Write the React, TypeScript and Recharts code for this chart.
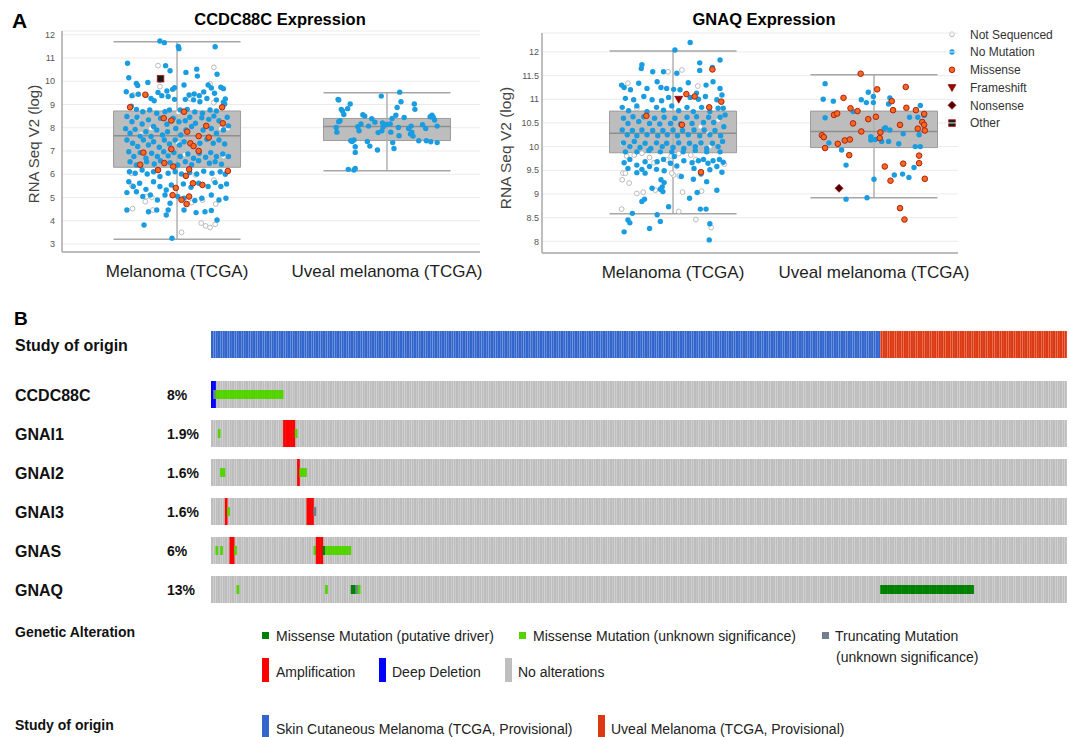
import React from "react";
import {
  ScatterChart,
  Scatter,
  XAxis,
  YAxis,
  CartesianGrid,
  ReferenceArea,
  ReferenceLine,
  BarChart,
  Bar,
} from "recharts";

// ---- panel A data ----
type Pt = [number, number]; // [jitter as share of half box width, RNA Seq V2 (log)]

const groups = ["Melanoma (TCGA)", "Uveal melanoma (TCGA)"];

// box stats: [low whisker, q1, median, q3, high whisker]
const ccdcMelBox = [3.2, 6.3, 7.65, 8.72, 11.7];
const ccdcUvBox = [6.15, 7.45, 8.05, 8.4, 9.5];
const gnaqMelBox = [8.58, 9.87, 10.28, 10.75, 12.02];
const gnaqUvBox = [8.92, 9.98, 10.32, 10.75, 11.52];

const ccdcTicks = [3, 4, 5, 6, 7, 8, 9, 10, 11, 12];
const gnaqTicks = [8, 8.5, 9, 9.5, 10, 10.5, 11, 11.5, 12];

const ccdcMelNoMut: Pt[] = [
  [-0.27, 11.73], [-0.2, 11.66], [0.6, 11.48], [0.02, 11.5], [0.03, 11.4],
  [-0.78, 10.77], [-0.76, 10.15], [-0.18, 10.67], [-0.11, 10.45], [0.14, 10.38],
  [0.31, 10.52], [0.32, 10.22], [0.63, 10.3], [0.69, 9.74], [0.11, 9.84],
  [-0.07, 9.65], [-0.64, 9.9], [-0.62, 9.82], [-0.8, 9.55], [-0.46, 9.95],
  [-0.27, 10.05], [-0.49, 9.4], [-0.41, 9.26], [-0.36, 9.16], [-0.3, 9.52],
  [-0.16, 9.58], [-0.04, 9.72], [0.19, 9.41], [0.27, 9.45], [0.35, 9.38],
  [0.42, 9.54], [0.49, 9.84], [0.54, 9.71], [0.59, 9.48], [0.73, 9.68],
  [0.76, 9.24], [0.73, 9.1], [0.62, 9.2], [0.47, 9.26], [0.36, 9.12],
  [0.26, 9.2], [0.13, 9.22], [-0.04, 9.22], [-0.14, 9.34], [-0.24, 9.38],
  [-0.61, 9.44], [-0.71, 9.38], [-0.72, 8.93], [-0.64, 8.79], [-0.54, 8.69],
  [-0.43, 8.76], [-0.32, 8.62], [-0.19, 8.69], [-0.12, 8.76], [0.05, 8.76],
  [0.16, 8.79], [0.28, 8.68], [0.4, 8.62], [0.52, 8.76], [0.62, 8.72],
  [0.75, 9.02], [-0.79, 8.48], [-0.71, 8.26], [-0.63, 8.45], [-0.55, 8.16],
  [-0.45, 8.34], [-0.37, 8.05], [-0.26, 8.41], [-0.16, 8.15], [-0.06, 8.41],
  [0.03, 8.26], [0.13, 8.3], [0.2, 8.45], [0.29, 8.19], [0.39, 8.43],
  [0.5, 8.36], [0.58, 8.5], [0.66, 8.3], [0.79, 8.45], [-0.81, 7.96],
  [-0.74, 7.76], [-0.66, 7.93], [-0.58, 7.64], [-0.49, 7.83], [-0.41, 7.62],
  [-0.32, 7.9], [-0.23, 7.69], [-0.15, 7.83], [-0.02, 7.97], [0.06, 7.69],
  [0.14, 7.9], [0.23, 8.05], [0.41, 7.9], [0.54, 7.97], [0.62, 7.76],
  [0.73, 7.9], [0.81, 8.08], [-0.79, 7.47], [-0.7, 7.33], [-0.62, 7.19],
  [-0.53, 7.47], [-0.45, 7.26], [-0.37, 7.4], [-0.28, 7.16], [-0.2, 7.47],
  [-0.12, 7.3], [-0.03, 7.47], [0.04, 7.26], [0.11, 7.4], [0.36, 7.33],
  [0.47, 7.5], [0.57, 7.33], [0.66, 7.47], [0.75, 7.3], [-0.76, 6.97],
  [-0.68, 6.76], [-0.58, 6.93], [-0.49, 6.69], [-0.4, 6.9], [-0.31, 6.76],
  [-0.21, 6.97], [-0.14, 6.79], [-0.05, 6.93], [0.05, 6.76], [0.17, 6.87],
  [0.26, 6.69], [0.35, 6.9], [0.45, 6.73], [0.53, 6.93], [0.62, 6.76],
  [0.72, 6.87], [0.81, 6.76], [-0.74, 6.54], [-0.64, 6.4], [-0.48, 6.54],
  [-0.36, 6.44], [-0.26, 6.58], [-0.11, 6.5], [0.01, 6.4], [0.13, 6.54],
  [0.23, 6.41], [0.34, 6.58], [0.51, 6.47], [0.6, 6.54], [0.7, 6.43],
  [-0.75, 6.11], [-0.66, 6.04], [-0.55, 6.18], [-0.47, 6.01], [-0.37, 6.11],
  [-0.27, 5.9], [-0.14, 6.04], [-0.03, 6.11], [0.07, 6.01], [0.2, 6.07],
  [0.31, 6.01], [0.42, 6.13], [0.55, 6.04], [0.68, 6.11], [0.76, 6.0],
  [-0.76, 5.68], [-0.69, 5.47], [-0.59, 5.61], [-0.49, 5.35], [-0.37, 5.68],
  [-0.27, 5.47], [-0.17, 5.32], [-0.09, 5.54], [0.1, 5.58], [0.22, 5.44],
  [0.34, 5.61], [0.49, 5.47], [0.6, 5.64], [0.69, 5.47], [0.78, 5.58],
  [-0.79, 5.21], [-0.64, 5.25], [-0.54, 5.04], [-0.42, 5.11], [-0.31, 4.89],
  [-0.19, 5.11], [-0.11, 4.75], [0.01, 5.04], [0.11, 4.97], [0.28, 4.87],
  [0.39, 4.97], [0.54, 5.11], [0.66, 4.89], [0.77, 4.97], [-0.79, 4.46],
  [-0.45, 4.39], [-0.32, 4.46], [-0.17, 4.25], [-0.14, 4.46], [0.11, 4.46],
  [0.3, 4.35], [0.44, 4.39], [0.54, 4.44], [0.63, 4.03], [-0.52, 3.82],
  [-0.08, 3.25],
];

const ccdcMelNotSeq: Pt[] = [
  [-0.3, 10.67], [0.58, 10.6], [-0.27, 9.77], [0.52, 9.89], [-0.69, 9.41],
  [0.21, 9.24], [0.58, 9.08], [-0.61, 8.41], [0.02, 8.66], [-0.41, 7.97],
  [0.69, 7.96], [0.8, 7.96], [-0.57, 7.73], [-0.44, 7.24], [0.12, 6.84],
  [0.01, 7.36], [0.73, 6.76], [-0.72, 6.04], [0.14, 5.93], [0.29, 5.97],
  [0.58, 5.75], [-0.71, 5.5], [-0.48, 5.04], [-0.4, 5.01], [-0.5, 4.82],
  [-0.38, 4.46], [0.23, 4.78], [0.4, 4.89], [0.61, 4.72], [-0.7, 4.52],
  [0.38, 3.9], [0.45, 3.78], [0.52, 3.71], [0.6, 3.85], [0.07, 3.5],
];

const ccdcMelMissense: Pt[] = [
  [-0.5, 9.42], [-0.74, 8.88], [-0.21, 8.41], [-0.09, 8.31], [0.11, 8.69],
  [0.72, 8.19], [0.46, 8.08], [0.71, 8.88], [0.16, 7.83], [0.34, 7.64],
  [0.5, 7.58], [0.21, 7.33], [0.26, 7.21], [0.34, 7.0], [-0.09, 7.08],
  [-0.53, 6.93], [-0.58, 6.41], [-0.2, 6.48], [-0.06, 6.33], [-0.3, 6.18],
  [0.19, 6.21], [0.8, 6.14], [0.14, 5.93], [0.25, 5.61], [0.4, 5.54],
  [-0.02, 5.41], [-0.07, 5.1], [0.07, 4.9], [0.19, 5.04], [0.15, 4.72],
];

const ccdcMelOther: Pt[] = [[-0.26, 10.11]];

const ccdcUvNoMut: Pt[] = [
  [-0.76, 9.19], [-0.77, 9.22], [-0.58, 9.02], [-0.72, 8.79], [-0.7, 8.72],
  [-0.68, 8.57], [-0.62, 8.82], [-0.74, 8.3], [-0.76, 8.26], [-0.8, 8.01],
  [-0.79, 7.81], [-0.57, 7.44], [-0.55, 7.41], [-0.52, 7.47], [-0.5, 7.18],
  [-0.5, 6.94], [-0.61, 6.21], [-0.52, 6.18], [-0.5, 6.25], [-0.44, 7.87],
  [-0.46, 8.04], [-0.41, 8.16], [-0.38, 8.56], [-0.35, 8.5], [-0.31, 7.41],
  [-0.27, 7.21], [-0.29, 8.07], [-0.24, 8.39], [-0.19, 8.24], [-0.15, 7.04],
  [-0.14, 7.79], [-0.09, 9.36], [-0.08, 7.87], [-0.06, 8.04], [-0.07, 8.21],
  [-0.01, 8.14], [0.05, 8.16], [0.08, 8.4], [0.06, 7.81], [0.09, 7.36],
  [0.11, 7.11], [0.14, 8.54], [0.16, 8.87], [0.2, 9.53], [0.22, 9.12],
  [0.18, 8.01], [0.19, 7.66], [0.27, 8.44], [0.34, 7.97], [0.38, 8.07],
  [0.39, 7.81], [0.37, 7.73], [0.43, 9.02], [0.44, 8.79], [0.41, 7.64],
  [0.5, 7.44], [0.56, 8.13], [0.61, 7.97], [0.62, 7.44], [0.69, 7.4],
  [0.71, 8.54], [0.73, 8.44], [0.75, 8.33], [0.79, 8.07], [0.79, 7.36],
  [0.68, 8.47],
];

const gnaqMelNoMut: Pt[] = [
  [0.27, 12.2], [0.03, 12.04], [0.74, 11.83], [0.42, 11.77], [-0.49, 11.73],
  [-0.5, 11.65], [-0.15, 11.58], [-0.32, 11.58], [0.06, 11.55], [0.42, 11.61],
  [0.62, 11.67], [-0.81, 11.3], [-0.77, 11.25], [-0.67, 11.2], [-0.54, 11.34],
  [-0.41, 11.23], [-0.25, 11.37], [-0.19, 11.25], [-0.1, 11.23], [0.01, 11.21],
  [0.11, 11.2], [0.24, 11.35], [0.37, 11.13], [0.52, 11.3], [0.63, 11.37],
  [0.74, 11.23], [0.77, 11.09], [-0.75, 11.02], [-0.62, 10.99], [-0.46, 11.06],
  [-0.33, 10.99], [-0.18, 10.97], [-0.07, 11.04], [0.27, 11.04], [0.4, 11.0],
  [0.51, 11.06], [0.69, 10.99], [0.79, 10.81], [-0.8, 10.83], [-0.7, 10.76],
  [-0.57, 10.86], [-0.41, 10.74], [-0.26, 10.83], [-0.15, 10.77], [-0.02, 10.86],
  [0.09, 10.76], [0.22, 10.83], [0.32, 10.74], [0.45, 10.83], [0.58, 10.74],
  [0.71, 10.81], [-0.78, 10.6], [-0.71, 10.49], [-0.63, 10.63], [-0.54, 10.53],
  [-0.46, 10.63], [-0.37, 10.49], [-0.29, 10.6], [-0.21, 10.48], [-0.14, 10.62],
  [-0.04, 10.49], [0.03, 10.6], [0.12, 10.48], [0.22, 10.62], [0.3, 10.49],
  [0.37, 10.63], [0.48, 10.51], [0.56, 10.62], [0.64, 10.51], [0.74, 10.62],
  [0.82, 10.67], [-0.8, 10.35], [-0.72, 10.25], [-0.64, 10.34], [-0.57, 10.23],
  [-0.49, 10.35], [-0.41, 10.25], [-0.32, 10.34], [-0.24, 10.23], [-0.16, 10.34],
  [-0.09, 10.25], [0.0, 10.35], [0.07, 10.23], [0.15, 10.34], [0.24, 10.25],
  [0.33, 10.35], [0.42, 10.23], [0.49, 10.35], [0.58, 10.25], [0.66, 10.34],
  [0.75, 10.23], [0.8, 10.42], [-0.78, 10.08], [-0.68, 10.0], [-0.61, 10.11],
  [-0.52, 9.98], [-0.44, 10.07], [-0.35, 9.96], [-0.26, 10.08], [-0.17, 10.0],
  [-0.1, 10.07], [0.0, 9.98], [0.09, 10.08], [0.17, 9.96], [0.26, 10.07],
  [0.35, 10.0], [0.44, 10.08], [0.53, 9.96], [0.62, 10.07], [0.71, 10.0],
  [0.78, 10.11], [-0.75, 9.89], [-0.57, 9.89], [-0.38, 9.92], [-0.2, 9.89],
  [-0.02, 9.89], [0.16, 9.89], [0.35, 9.92], [0.53, 9.89], [0.74, 9.89],
  [-0.77, 9.66], [-0.68, 9.73], [-0.57, 9.61], [-0.44, 9.68], [-0.37, 9.58],
  [-0.25, 9.68], [-0.15, 9.73], [-0.04, 9.65], [0.02, 9.79], [0.06, 9.59],
  [0.17, 9.7], [0.3, 9.66], [0.4, 9.7], [0.48, 9.73], [0.55, 9.65],
  [0.63, 9.7], [0.73, 9.73], [0.79, 9.67], [0.77, 9.46], [-0.71, 9.54],
  [-0.57, 9.45], [-0.44, 9.44], [-0.49, 9.52], [-0.26, 9.52], [-0.14, 9.49],
  [0.13, 9.37], [0.33, 9.54], [0.44, 9.42], [0.58, 9.51], [0.69, 9.58],
  [-0.19, 9.3], [-0.14, 9.24], [-0.17, 9.15], [-0.2, 9.1], [-0.16, 9.05],
  [-0.33, 9.12], [-0.49, 8.84], [-0.45, 8.89], [0.26, 8.91], [0.38, 9.03],
  [0.32, 9.31], [0.53, 9.26], [0.69, 9.08], [-0.64, 8.59], [-0.25, 8.56],
  [-0.07, 8.73], [0.43, 8.68], [0.52, 8.68], [-0.71, 8.45], [-0.68, 8.39],
  [-0.2, 8.42], [-0.77, 8.2], [-0.37, 8.27], [0.58, 8.37], [0.57, 8.03],
];

const gnaqMelNotSeq: Pt[] = [
  [-0.71, 11.34], [-0.08, 11.58], [0.14, 11.62], [0.39, 11.28], [-0.57, 10.81],
  [-0.8, 10.06], [-0.73, 9.8], [-0.61, 9.82], [-0.49, 9.86], [-0.37, 9.77],
  [-0.3, 9.66], [-0.1, 9.72], [-0.03, 9.8], [0.09, 9.85], [0.28, 9.82],
  [0.36, 9.73], [0.43, 10.42], [0.56, 10.28], [0.58, 10.0], [0.71, 10.56],
  [0.81, 9.63], [-0.79, 9.44], [-0.75, 9.44], [-0.69, 9.23], [-0.8, 9.3],
  [-0.57, 9.01], [-0.47, 9.04], [-0.28, 9.08], [0.01, 9.4], [0.1, 9.38],
  [0.15, 9.04], [0.45, 9.06], [0.09, 8.63], [0.36, 8.46], [0.6, 8.29],
  [-0.81, 8.68], [-0.02, 9.44],
];

const gnaqMelMissense: Pt[] = [
  [0.62, 11.63], [0.21, 11.11], [0.34, 11.06], [0.76, 10.95], [0.57, 10.83],
  [-0.42, 10.65], [0.14, 10.46], [0.44, 9.46],
];

const gnaqMelFrameshift: Pt[] = [[0.09, 11.0]];

const gnaqUvNoMut: Pt[] = [
  [-0.77, 11.33], [-0.8, 11.0], [-0.64, 10.96], [-0.77, 10.61], [-0.71, 10.08],
  [-0.51, 9.93], [-0.44, 9.61], [-0.44, 8.89], [-0.33, 10.74], [-0.2, 10.99],
  [-0.12, 10.93], [-0.09, 11.15], [-0.01, 11.06], [-0.01, 10.93], [-0.05, 10.21],
  [-0.05, 10.14], [0.02, 10.15], [0.12, 10.11], [0.16, 10.38], [0.18, 10.4],
  [0.23, 10.11], [0.25, 10.35], [0.23, 10.9], [0.25, 11.03], [0.39, 10.06],
  [0.46, 10.27], [0.56, 10.62], [0.69, 10.62], [0.73, 10.87], [0.65, 10.0],
  [0.73, 10.0], [0.71, 10.25], [0.0, 9.31], [-0.11, 8.92], [0.32, 9.4],
  [0.45, 9.42], [0.55, 9.35], [0.63, 9.56], [0.79, 10.66],
];

const gnaqUvMissense: Pt[] = [
  [-0.21, 11.54], [0.05, 11.21], [0.5, 11.26], [-0.48, 11.03], [-0.37, 10.81],
  [-0.26, 10.75], [-0.63, 10.67], [-0.58, 10.7], [-0.33, 10.49], [-0.09, 10.58],
  [0.03, 10.63], [0.28, 10.96], [0.3, 10.77], [0.51, 10.82], [0.66, 10.77],
  [0.79, 10.69], [0.76, 10.52], [0.79, 10.46], [0.8, 10.34], [0.69, 10.38],
  [0.41, 10.46], [-0.2, 10.32], [0.1, 10.3], [0.09, 10.18], [-0.82, 10.24],
  [-0.79, 10.2], [-0.46, 10.13], [-0.38, 10.15], [-0.57, 10.06], [-0.77, 9.97],
  [-0.39, 9.82], [0.71, 9.81], [0.71, 9.65], [0.46, 9.64], [0.17, 9.58],
  [0.26, 9.28], [0.8, 9.32], [0.41, 8.7], [0.48, 8.46],
];

const gnaqUvNonsense: Pt[] = [[-0.55, 9.12]];

// ---- panel B data ----
type Run = [number, number, string]; // first sample, last sample, alteration

const nSkin = 287;
const nUveal = 80;
const geneNames = ["CCDC88C", "GNAI1", "GNAI2", "GNAI3", "GNAS", "GNAQ"];
const genePct = ["8%", "1.9%", "1.6%", "1.6%", "6%", "13%"];

const cnaRuns: Run[][] = [
  [[0, 1, "DEL"]],
  [[31, 35, "AMP"]],
  [[37, 37, "AMP"]],
  [[6, 6, "AMP"], [41, 43, "AMP"]],
  [[8, 9, "AMP"], [45, 47, "AMP"]],
  [],
];
const mutRuns: Run[][] = [
  [[1, 1, "TRUNC"], [2, 30, "MIS"]],
  [[3, 3, "MIS"], [36, 36, "MIS"]],
  [[4, 5, "MIS"], [38, 40, "MIS"]],
  [[7, 7, "MIS"], [44, 44, "TRUNC"]],
  [[2, 2, "MIS"], [4, 4, "MIS"], [10, 10, "MIS"], [44, 44, "MIS"], [48, 48, "DRV"], [49, 59, "MIS"]],
  [[11, 11, "MIS"], [49, 49, "MIS"], [60, 61, "DRV"], [62, 62, "TRUNC"], [63, 63, "MIS"], [287, 326, "DRV"]],
];

const altColor: Record<string, string> = {
  AMP: "#ff0000",
  DEL: "#0000ff",
  DRV: "#008000",
  MIS: "#53d400",
  TRUNC: "#708090",
};
const studyColor = ["#3366cc", "#dc3912"];

// ---- marks ----
const FONT = "'Liberation Sans', Arial, Helvetica, sans-serif";

const markNotSeq = (cx: number, cy: number) => (
  <circle cx={cx} cy={cy} r={2.4} fill="#fff" stroke="#b4b4b4" strokeWidth={0.9} />
);
const markNoMut = (cx: number, cy: number) => <circle cx={cx} cy={cy} r={2.7} fill="#1a9de0" />;
const markMissense = (cx: number, cy: number) => (
  <circle cx={cx} cy={cy} r={2.8} fill="#f26a1f" stroke="#b5200f" strokeWidth={1} />
);
const markFrameshift = (cx: number, cy: number) => (
  <polygon points={`${cx - 4},${cy - 3} ${cx + 4},${cy - 3} ${cx},${cy + 4}`} fill="#a00000" stroke="#700000" strokeWidth={0.6} />
);
const markNonsense = (cx: number, cy: number) => (
  <polygon points={`${cx},${cy - 4} ${cx + 4},${cy} ${cx},${cy + 4} ${cx - 4},${cy}`} fill="#4a0000" stroke="#b01010" strokeWidth={0.8} />
);
const markOther = (cx: number, cy: number) => (
  <rect x={cx - 3.3} y={cy - 3.3} width={6.6} height={6.6} fill="#1a1a1a" stroke="#c01010" strokeWidth={0.8} />
);

const marks: Record<string, (cx: number, cy: number) => React.ReactElement> = {
  notseq: markNotSeq,
  nomut: markNoMut,
  missense: markMissense,
  frameshift: markFrameshift,
  nonsense: markNonsense,
  other: markOther,
};

const legendItems: [string, string][] = [
  ["notseq", "Not Sequenced"],
  ["nomut", "No Mutation"],
  ["missense", "Missense"],
  ["frameshift", "Frameshift"],
  ["nonsense", "Nonsense"],
  ["other", "Other"],
];

function place(pts: Pt[], cat: number, hw: number) {
  return pts.map(([o, v]) => ({ x: cat + o * hw, y: v }));
}

interface Series {
  pts: Pt[];
  cat: number;
  kind: string;
}

interface ExprProps {
  left: number;
  width: number;
  margin: { top: number; right: number; bottom: number; left: number };
  xDomain: [number, number];
  yDomain: [number, number];
  yTicks: number[];
  hw: number;
  boxes: number[][];
  series: Series[];
  tickGap: number;
}

function ExprChart({ left, width, margin, xDomain, yDomain, yTicks, hw, boxes, series, tickGap }: ExprProps) {
  const axisStroke = { stroke: "#a9a9a9", strokeWidth: 1.5 };
  return (
    <div style={{ position: "absolute", left, top: 0 }}>
      <ScatterChart width={width} height={290} margin={margin}>
        <CartesianGrid vertical={false} stroke="#ebebeb" />
        <XAxis
          type="number"
          dataKey="x"
          domain={xDomain}
          ticks={[0, 1]}
          interval={0}
          allowDataOverflow
          tickFormatter={(v: number) => groups[v]}
          tickLine={false}
          tickMargin={7}
          height={35}
          axisLine={axisStroke}
          tick={{ fontSize: 17, fill: "#1e1e1e" }}
        />
        <YAxis
          type="number"
          dataKey="y"
          domain={yDomain}
          ticks={yTicks}
          interval={0}
          allowDataOverflow
          width={30}
          tickLine={false}
          tickSize={0}
          tickMargin={tickGap}
          axisLine={axisStroke}
          tick={{ fontSize: 9, fill: "#555" }}
        />
        {boxes.map((b, cat) => (
          <ReferenceLine
            key={`w${cat}`}
            segment={[{ x: cat, y: b[0] }, { x: cat, y: b[4] }]}
            stroke="#b0b0b0"
            strokeWidth={1.5}
          />
        ))}
        {boxes.map((b, cat) => (
          <ReferenceArea
            key={`b${cat}`}
            x1={cat - hw}
            x2={cat + hw}
            y1={b[1]}
            y2={b[3]}
            fill="#bdbdbd"
            fillOpacity={1}
            stroke="#9c9c9c"
            strokeWidth={1}
          />
        ))}
        {boxes.flatMap((b, cat) =>
          [b[0], b[2], b[4]].map((v, k) => (
            <ReferenceLine
              key={`h${cat}-${k}`}
              segment={[{ x: cat - hw, y: v }, { x: cat + hw, y: v }]}
              stroke={k === 1 ? "#8e8e8e" : "#a6a6a6"}
              strokeWidth={1.5}
            />
          ))
        )}
        {series.map((s, k) => (
          <Scatter
            key={k}
            data={place(s.pts, s.cat, hw)}
            isAnimationActive={false}
            shape={(p: any) => marks[s.kind](p.cx, p.cy)}
          />
        ))}
      </ScatterChart>
    </div>
  );
}

// ---- oncoprint ----
const ONCO_W = 856;
const ONCO_H = 27;
const N = nSkin + nUveal;
const BAND = ONCO_W / N;

function buildRow(cna: Run[], mut: Run[]) {
  const cells = Array.from({ length: N }, (_, i) => ({
    i,
    v: 1,
    study: i < nSkin ? 0 : 1,
    cna: "",
    mut: "",
  }));
  cna.forEach(([a, b, t]) => {
    for (let i = a; i <= b; i++) cells[i].cna = t;
  });
  mut.forEach(([a, b, t]) => {
    for (let i = a; i <= b; i++) cells[i].mut = t;
  });
  return cells;
}

// one layer of an oncoprint track: "bg" = sample cells, "alt" = alterations on top
function OncoLayer({ top, cells, layer }: { top: number; cells: any[]; layer: "bg" | "study" | "alt" }) {
  const cell = (p: any) => {
    const d = p.payload;
    const h = ONCO_H;
    if (layer === "study") {
      return <rect x={p.x} y={p.y} width={BAND - 0.12} height={h} fill={studyColor[d.study]} />;
    }
    if (layer === "bg") {
      return <rect x={p.x} y={p.y} width={BAND - 0.15} height={h} fill="#bdbdbd" />;
    }
    return (
      <g>
        {d.cna && <rect x={p.x - 0.2} y={p.y} width={BAND + 0.4} height={h} fill={altColor[d.cna]} />}
        {d.mut && <rect x={p.x - 0.2} y={p.y + h / 3} width={BAND + 0.4} height={h / 3} fill={altColor[d.mut]} />}
      </g>
    );
  };
  return (
    <div style={{ position: "absolute", left: 211, top }}>
      <BarChart width={ONCO_W} height={ONCO_H} data={cells} margin={{ top: 0, right: 0, bottom: 0, left: 0 }} barCategoryGap={0} barGap={0}>
        <XAxis dataKey="i" hide />
        <YAxis hide domain={[0, 1]} />
        <Bar dataKey="v" isAnimationActive={false} shape={cell} />
      </BarChart>
    </div>
  );
}

const rowTops = [381, 420, 459, 498, 537, 576];

export default function App() {
  const rows = geneNames.map((_, k) => buildRow(cnaRuns[k], mutRuns[k]));
  const studyRow = buildRow([], []);

  return (
    <div
      style={{
        position: "absolute",
        left: 0,
        top: 0,
        width: 1069,
        height: 737,
        background: "#fff",
        fontFamily: FONT,
        overflow: "hidden",
      }}
    >
      <svg width={1069} height={737} style={{ position: "absolute", left: 0, top: 0 }} fontFamily={FONT}>
        <text x={12} y={28} fontSize={21} fontWeight="bold" fill="#000">A</text>
        <text x={280} y={25} fontSize={16.5} fontWeight="bold" textAnchor="middle" fill="#000">CCDC88C Expression</text>
        <text x={764} y={25} fontSize={16.5} fontWeight="bold" textAnchor="middle" fill="#000">GNAQ Expression</text>
        <text transform="translate(39,144) rotate(-90)" fontSize={15} textAnchor="middle" fill="#444">RNA Seq V2 (log)</text>
        <text transform="translate(511,148) rotate(-90)" fontSize={15.5} textAnchor="middle" fill="#444">RNA Seq V2 (log)</text>

        {legendItems.map(([kind, label], k) => (
          <g key={kind}>
            {marks[kind](952, 34.3 + k * 17.75)}
            <text x={970} y={38.5 + k * 17.75} fontSize={12} fill="#333">{label}</text>
          </g>
        ))}

        <text x={14} y={325} fontSize={19} fontWeight="bold" fill="#000">B</text>
        <text x={15} y={351} fontSize={16} fontWeight="bold" fill="#111">Study of origin</text>
        {geneNames.map((g, k) => (
          <g key={g}>
            <text x={15} y={rowTops[k] + 19.5} fontSize={16} fontWeight="bold" fill="#111">{g}</text>
            <text x={167} y={rowTops[k] + 19} fontSize={14} fontWeight="bold" fill="#111">{genePct[k]}</text>
          </g>
        ))}

        <text x={15} y={637} fontSize={14} fontWeight="bold" fill="#111">Genetic Alteration</text>
        <rect x={262} y={632} width={7} height={7} fill={altColor.DRV} />
        <text x={276} y={641} fontSize={14} fill="#222">Missense Mutation (putative driver)</text>
        <rect x={519} y={632} width={7} height={7} fill={altColor.MIS} />
        <text x={533} y={641} fontSize={14} fill="#222">Missense Mutation (unknown significance)</text>
        <rect x={822} y={632} width={7} height={7} fill={altColor.TRUNC} />
        <text x={835} y={641} fontSize={14} fill="#222">Truncating Mutation</text>
        <text x={836} y={662} fontSize={14} fill="#222">(unknown significance)</text>
        <rect x={262} y={658} width={7} height={24} fill={altColor.AMP} />
        <text x={276} y={677} fontSize={14} fill="#222">Amplification</text>
        <rect x={379} y={658} width={7} height={24} fill={altColor.DEL} />
        <text x={392} y={677} fontSize={14} fill="#222">Deep Deletion</text>
        <rect x={505} y={658} width={7} height={24} fill="#bebebe" />
        <text x={518} y={677} fontSize={14} fill="#222">No alterations</text>

        <text x={15} y={730} fontSize={14} fontWeight="bold" fill="#111">Study of origin</text>
        <rect x={262} y={715} width={7} height={22} fill={studyColor[0]} />
        <text x={276} y={734} fontSize={14} fill="#222">Skin Cutaneous Melanoma (TCGA, Provisional)</text>
        <rect x={598} y={715} width={7} height={22} fill={studyColor[1]} />
        <text x={611} y={734} fontSize={14} fill="#222">Uveal Melanoma (TCGA, Provisional)</text>
      </svg>

      <ExprChart
        left={0}
        width={490}
        margin={{ top: 31, right: 10, bottom: 3, left: 32 }}
        xDomain={[-0.548, 1.443]}
        yDomain={[2.656, 12.16]}
        yTicks={ccdcTicks}
        hw={0.3024}
        tickGap={7}
        boxes={[ccdcMelBox, ccdcUvBox]}
        series={[
          { pts: ccdcMelNotSeq, cat: 0, kind: "notseq" },
          { pts: ccdcMelNoMut, cat: 0, kind: "nomut" },
          { pts: ccdcUvNoMut, cat: 1, kind: "nomut" },
          { pts: ccdcMelMissense, cat: 0, kind: "missense" },
          { pts: ccdcMelOther, cat: 0, kind: "other" },
        ]}
      />
      <ExprChart
        left={470}
        width={500}
        margin={{ top: 33, right: 12, bottom: 2, left: 42 }}
        xDomain={[-0.652, 1.418]}
        yDomain={[7.753, 12.4]}
        yTicks={gnaqTicks}
        hw={0.316}
        tickGap={3}
        boxes={[gnaqMelBox, gnaqUvBox]}
        series={[
          { pts: gnaqMelNotSeq, cat: 0, kind: "notseq" },
          { pts: gnaqMelNoMut, cat: 0, kind: "nomut" },
          { pts: gnaqUvNoMut, cat: 1, kind: "nomut" },
          { pts: gnaqMelMissense, cat: 0, kind: "missense" },
          { pts: gnaqUvMissense, cat: 1, kind: "missense" },
          { pts: gnaqMelFrameshift, cat: 0, kind: "frameshift" },
          { pts: gnaqUvNonsense, cat: 1, kind: "nonsense" },
        ]}
      />

      <OncoLayer top={331} cells={studyRow} layer="study" />
      {rows.map((cells, k) => (
        <React.Fragment key={geneNames[k]}>
          <OncoLayer top={rowTops[k]} cells={cells} layer="bg" />
          <OncoLayer top={rowTops[k]} cells={cells} layer="alt" />
        </React.Fragment>
      ))}
    </div>
  );
}
